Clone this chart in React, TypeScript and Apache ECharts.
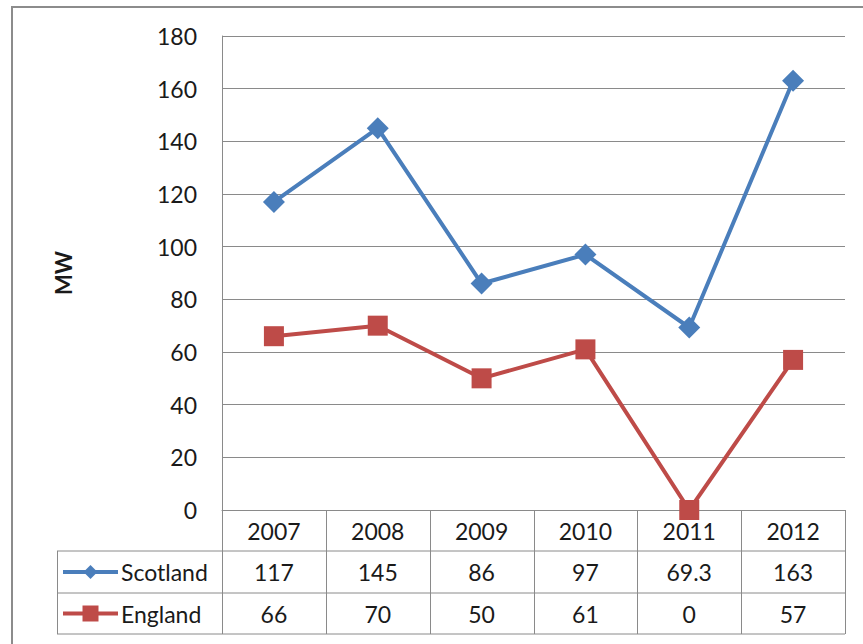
import React, { useEffect, useRef } from "react";
import * as echarts from "echarts";

// Annual capacity (MW) by nation
const years = ["2007", "2008", "2009", "2010", "2011", "2012"];
const scotland = [117, 145, 86, 97, 69.3, 163];
const england = [66, 70, 50, 61, 0, 57];
const seriesNames = ["Scotland", "England"];

const Y_MIN = 0;
const Y_MAX = 180;
const Y_STEP = 20;

const BLUE = "#4A7EBB";
const RED = "#BE4B48";
const GRID_COLOR = "#8a8a8a";
const TEXT_COLOR = "#1a1a1a";
const FONT = "Lato, 'Noto Sans', sans-serif";
const FONT_SIZE = 23;

// Plot area and data table layout
const PLOT_LEFT = 222;
const PLOT_RIGHT = 845;
const PLOT_TOP = 36;
const PLOT_BOTTOM = 510;
const ROW_LINES = [551, 593, 634];
const KEY_LEFT = 57;

function buildTable(): any[] {
  const els: any[] = [];
  const n = years.length;
  const colW = (PLOT_RIGHT - PLOT_LEFT) / n;
  const line = (x1: number, y1: number, x2: number, y2: number) => ({
    type: "line",
    shape: { x1, y1, x2, y2 },
    style: { stroke: GRID_COLOR, lineWidth: 1 },
    silent: true,
  });
  const text = (t: string, x: number, y: number, align: string) => ({
    type: "text",
    style: {
      text: t,
      x,
      y,
      textAlign: align,
      textVerticalAlign: "middle",
      fontSize: FONT_SIZE,
      fontFamily: FONT,
      fill: TEXT_COLOR,
    },
    silent: true,
  });

  // horizontal rules
  ROW_LINES.forEach((y) => els.push(line(KEY_LEFT, y, PLOT_RIGHT, y)));
  // column separators
  for (let i = 0; i <= n; i++) {
    const x = Math.round(PLOT_LEFT + i * colW) + 0.5;
    els.push(line(x, PLOT_BOTTOM, x, ROW_LINES[2]));
  }
  els.push(line(KEY_LEFT + 0.5, ROW_LINES[0], KEY_LEFT + 0.5, ROW_LINES[2]));

  // header row and values
  const rowsY = [
    (PLOT_BOTTOM + ROW_LINES[0]) / 2,
    (ROW_LINES[0] + ROW_LINES[1]) / 2,
    (ROW_LINES[1] + ROW_LINES[2]) / 2,
  ];
  years.forEach((yr, i) => {
    const cx = PLOT_LEFT + (i + 0.5) * colW;
    els.push(text(yr, cx, rowsY[0], "center"));
    els.push(text(String(scotland[i]), cx, rowsY[1], "center"));
    els.push(text(String(england[i]), cx, rowsY[2], "center"));
  });

  // legend keys in the first column
  const keyX1 = 63;
  const keyX2 = 118;
  const keyMid = (keyX1 + keyX2) / 2;
  [BLUE, RED].forEach((c, r) => {
    const y = rowsY[r + 1];
    els.push({
      type: "line",
      shape: { x1: keyX1, y1: y, x2: keyX2, y2: y },
      style: { stroke: c, lineWidth: 4 },
      silent: true,
    });
    if (r === 0) {
      els.push({
        type: "polygon",
        shape: {
          points: [
            [keyMid, y - 7],
            [keyMid + 7, y],
            [keyMid, y + 7],
            [keyMid - 7, y],
          ],
        },
        style: { fill: c },
        silent: true,
      });
    } else {
      els.push({
        type: "rect",
        shape: { x: keyMid - 8, y: y - 8, width: 16, height: 16 },
        style: { fill: c },
        silent: true,
      });
    }
    els.push(text(seriesNames[r], 121, y, "left"));
  });

  // outer chart frame
  els.push({
    type: "rect",
    shape: { x: 12, y: 7, width: 880, height: 700 },
    style: { fill: "none", stroke: "#8c8c8c", lineWidth: 2 },
    silent: true,
  });
  return els;
}

export default function App() {
  const ref = useRef<HTMLDivElement>(null);

  useEffect(() => {
    if (!ref.current) return;
    const chart = echarts.init(ref.current, undefined, { renderer: "svg" });
    chart.setOption({
      animation: false,
      backgroundColor: "#ffffff",
      grid: {
        left: PLOT_LEFT,
        top: PLOT_TOP,
        width: PLOT_RIGHT - PLOT_LEFT,
        height: PLOT_BOTTOM - PLOT_TOP,
        containLabel: false,
      },
      xAxis: {
        type: "category",
        data: years,
        boundaryGap: true,
        axisLine: { lineStyle: { color: GRID_COLOR, width: 1 } },
        axisTick: { show: false },
        axisLabel: { show: false },
        splitLine: { show: false },
      },
      yAxis: {
        type: "value",
        min: Y_MIN,
        max: Y_MAX,
        interval: Y_STEP,
        name: "MW",
        nameLocation: "middle",
        nameRotate: 90,
        nameGap: 148,
        nameTextStyle: {
          fontSize: 22,
          fontWeight: "bold",
          fontFamily: FONT,
          color: TEXT_COLOR,
        },
        axisLine: { show: true, lineStyle: { color: GRID_COLOR, width: 1 } },
        axisTick: { show: false },
        axisLabel: {
          fontSize: FONT_SIZE,
          fontFamily: FONT,
          color: TEXT_COLOR,
          margin: 25,
        },
        splitLine: { lineStyle: { color: GRID_COLOR, width: 1 } },
      },
      series: [
        {
          name: seriesNames[0],
          type: "line",
          data: scotland,
          symbol: "diamond",
          symbolSize: 22,
          lineStyle: { color: BLUE, width: 4 },
          itemStyle: { color: BLUE },
          z: 3,
        },
        {
          name: seriesNames[1],
          type: "line",
          data: england,
          symbol: "rect",
          symbolSize: 20,
          lineStyle: { color: RED, width: 4 },
          itemStyle: { color: RED },
          z: 3,
        },
      ],
      graphic: buildTable(),
    });
    return () => chart.dispose();
  }, []);

  return (
    <div
      ref={ref}
      style={{ position: "fixed", left: 0, top: 0, width: 863, height: 644 }}
    />
  );
}
